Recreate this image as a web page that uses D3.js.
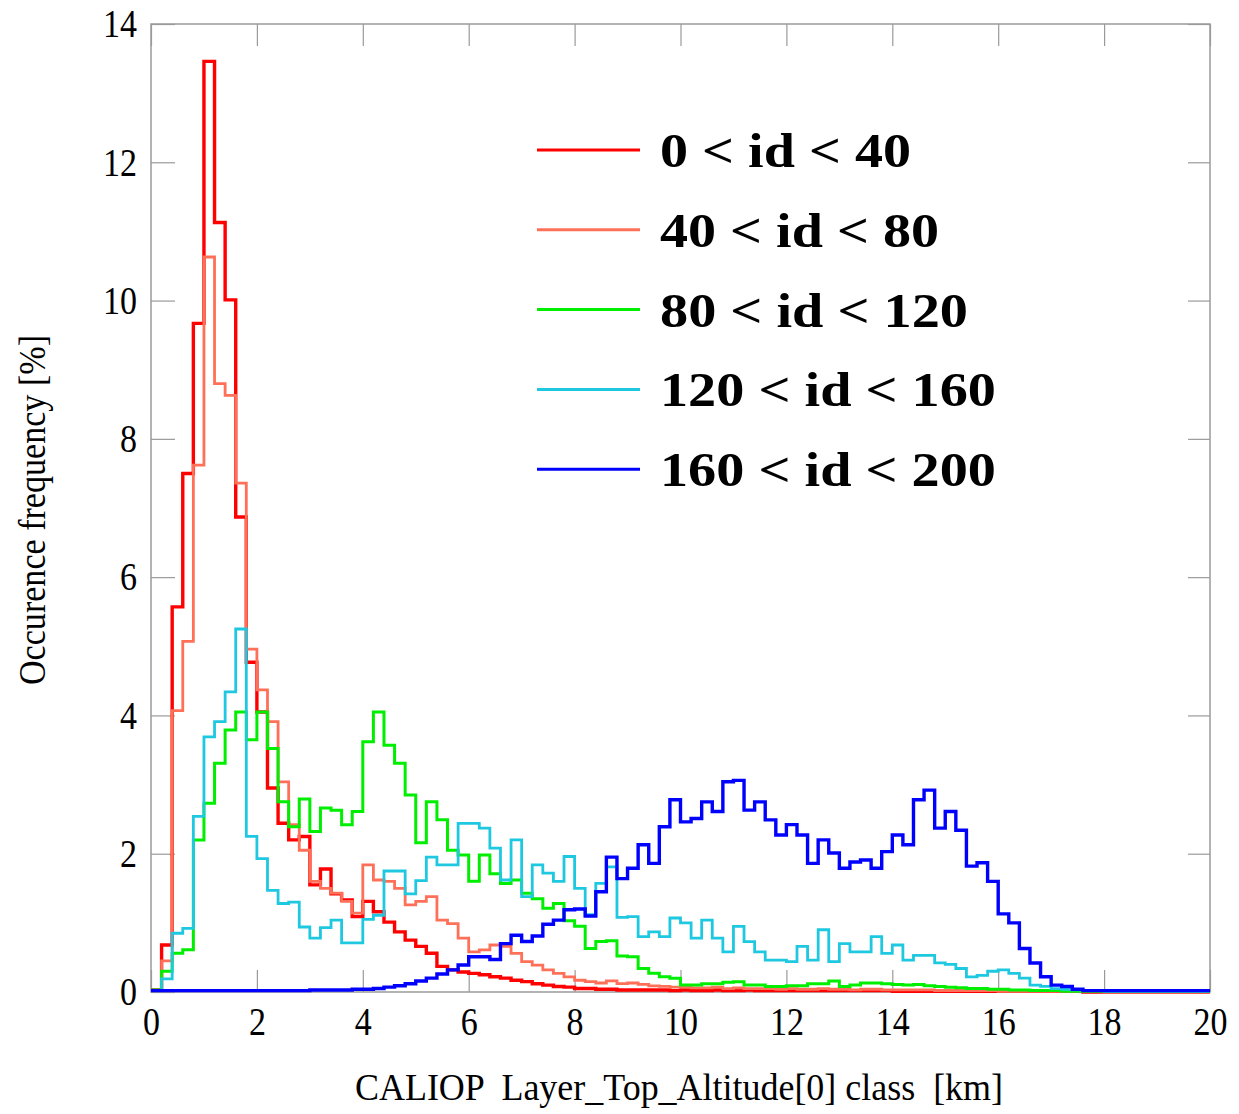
<!DOCTYPE html>
<html>
<head>
<meta charset="utf-8">
<script src="https://d3js.org/d3.v7.min.js"></script>
<style>
  body { margin: 0; background: #fff; }
  text { font-family: "Liberation Serif", "DejaVu Serif", serif; fill: #000; }
</style>
</head>
<body>
<svg id="chart" width="1239" height="1114"></svg>
<script>
/** data, one value per 0.2 km class (0 - 20 km) **/
var binWidth = 0.2;

var red = [0.03,0.68,5.57,7.50,9.67,13.46,11.13,10.01,6.87,4.77,
  4.05,2.95,2.44,2.20,2.25,1.55,1.78,1.42,1.33,1.09,
  1.31,1.16,1.01,0.87,0.75,0.66,0.56,0.37,0.32,0.29,
  0.27,0.25,0.22,0.20,0.17,0.15,0.12,0.10,0.08,0.07,
  0.05,0.05,0.04,0.04,0.03,0.03,0.03,0.03,0.03,0.02,
  0.03,0.02,0.02,0.03,0.02,0.02,0.03,0.02,0.02,0.02,
  0.02,0.02,0.02,0.02,0.02,0.02,0.02,0.02,0.02,0.02,
  0.01,0.01,0.01,0.01,0.01,0.01,0.01,0.01,0.01,0.01,
  0.01,0.01,0.01,0.01,0.01,0.01,0.01,0.01,0.00,0.00,
  0.00,0.00,0.00,0.00,0.00,0.00,0.00,0.00,0.00,0.00];

var salmon = [0.03,0.45,4.07,5.07,7.62,10.63,8.80,8.63,7.36,4.96,
  4.37,3.91,3.04,2.42,2.05,1.60,1.50,1.43,1.31,1.14,
  1.84,1.62,1.60,1.50,1.26,1.31,1.38,1.04,0.99,0.78,
  0.58,0.61,0.68,0.66,0.56,0.44,0.39,0.32,0.27,0.22,
  0.17,0.15,0.13,0.16,0.12,0.13,0.11,0.09,0.08,0.07,
  0.07,0.06,0.06,0.07,0.05,0.06,0.05,0.05,0.05,0.04,
  0.05,0.04,0.04,0.05,0.04,0.04,0.03,0.04,0.04,0.03,
  0.03,0.03,0.03,0.03,0.02,0.02,0.02,0.02,0.02,0.02,
  0.01,0.01,0.01,0.01,0.01,0.01,0.01,0.01,0.01,0.01,
  0.00,0.00,0.00,0.00,0.00,0.00,0.00,0.00,0.00,0.00];

var green = [0.03,0.30,0.56,0.61,2.20,2.73,3.31,3.79,4.05,3.65,
  4.05,3.52,2.75,2.39,2.79,2.32,2.66,2.63,2.42,2.61,
  3.62,4.05,3.57,3.31,2.85,2.16,2.75,2.49,2.05,1.98,
  1.60,1.98,1.71,1.57,1.62,1.43,1.35,1.21,1.28,1.03,
  0.95,0.63,0.73,0.74,0.52,0.51,0.34,0.27,0.22,0.20,
  0.10,0.10,0.12,0.12,0.14,0.15,0.10,0.10,0.08,0.08,
  0.09,0.09,0.12,0.12,0.16,0.08,0.10,0.13,0.13,0.12,
  0.11,0.10,0.11,0.09,0.08,0.07,0.06,0.05,0.05,0.04,
  0.04,0.03,0.03,0.02,0.02,0.02,0.01,0.01,0.01,0.01,
  0.01,0.01,0.01,0.01,0.01,0.01,0.01,0.01,0.01,0.01];

var cyan = [0.02,0.19,0.85,0.92,2.54,3.69,3.91,4.34,5.25,2.25,
  1.93,1.47,1.28,1.30,0.94,0.78,0.93,1.04,0.71,0.71,
  1.05,1.11,1.75,1.75,1.42,1.61,1.95,1.84,1.84,2.44,
  2.44,2.37,2.08,1.62,2.20,1.38,1.84,1.72,1.60,1.96,
  1.50,1.12,1.57,1.81,1.08,1.09,0.80,0.87,0.80,1.07,
  1.00,0.78,1.04,0.78,0.58,0.95,0.73,0.58,0.46,0.46,
  0.44,0.66,0.46,0.90,0.44,0.70,0.58,0.58,0.80,0.56,
  0.68,0.46,0.53,0.53,0.42,0.40,0.34,0.22,0.24,0.30,
  0.32,0.27,0.20,0.10,0.08,0.05,0.04,0.03,0.02,0.02,
  0.01,0.01,0.01,0.01,0.01,0.01,0.01,0.01,0.01,0.01];

var blue = [0.02,0.02,0.02,0.02,0.02,0.02,0.02,0.02,0.02,0.02,
  0.02,0.02,0.02,0.02,0.02,0.03,0.03,0.03,0.03,0.04,
  0.04,0.05,0.07,0.09,0.12,0.16,0.20,0.26,0.32,0.39,
  0.51,0.51,0.47,0.70,0.82,0.73,0.81,0.98,1.04,1.19,
  1.20,1.10,1.45,1.95,1.64,1.79,2.13,1.86,2.39,2.78,
  2.46,2.51,2.75,2.61,3.04,3.06,2.63,2.75,2.49,2.27,
  2.42,2.27,1.86,2.20,2.01,1.79,1.88,1.91,1.79,2.03,
  2.27,2.13,2.78,2.92,2.37,2.61,2.34,1.82,1.87,1.60,
  1.13,1.00,0.63,0.42,0.22,0.10,0.08,0.04,0.02,0.02,
  0.02,0.02,0.02,0.02,0.02,0.02,0.02,0.02,0.02,0.02];

var seriesNames = ["0 < id < 40", "40 < id < 80", "80 < id < 120", "120 < id < 160", "160 < id < 200"];
var seriesColors = ["#ff0000", "#ff7058", "#00ee00", "#1ec8e0", "#0000ff"];
var seriesWidth = [3.4, 2.8, 3, 2.8, 3.4];
var seriesData = [red, salmon, green, cyan, blue];

var xTicks = [0, 2, 4, 6, 8, 10, 12, 14, 16, 18, 20];
var yTicks = [0, 2, 4, 6, 8, 10, 12, 14];

/** layout **/
var svg = d3.select("#chart");
var x = d3.scaleLinear().domain([0, 20]).range([151, 1210]);
var y = d3.scaleLinear().domain([0, 14]).range([992, 24]);
var gridCol = "#9a9a9a";
var sx = 0.85; // tick labels look narrow

// bottom axis with labels, ticks pointing in
var gx = svg.append("g").attr("transform", "translate(0,992)")
  .call(d3.axisBottom(x).tickValues(xTicks).tickSizeInner(-22).tickSizeOuter(0).tickPadding(15));
gx.selectAll("text").attr("font-size", 40).attr("transform", "scale(" + sx + ",1)");

// top axis, ticks only
var gxt = svg.append("g").attr("transform", "translate(0,24)")
  .call(d3.axisTop(x).tickValues(xTicks).tickSizeInner(-22).tickSizeOuter(0).tickFormat(""));

// left axis with labels
var gy = svg.append("g").attr("transform", "translate(151,0)")
  .call(d3.axisLeft(y).tickValues(yTicks).tickSizeInner(-24).tickSizeOuter(0).tickPadding(14));
gy.selectAll("text").attr("font-size", 40)
  .attr("x", -14 / sx)
  .attr("transform", "scale(" + sx + ",1)");

// right axis, ticks only
var gyr = svg.append("g").attr("transform", "translate(1210,0)")
  .call(d3.axisRight(y).tickValues(yTicks).tickSizeInner(-22).tickSizeOuter(0).tickFormat(""));

svg.selectAll(".domain").remove();
svg.selectAll(".tick line").attr("stroke", gridCol).attr("stroke-width", 1.2);
svg.selectAll(".tick text").attr("font-family", "Liberation Serif, serif").attr("fill", "#000");

// frame
svg.append("rect")
  .attr("x", x(0)).attr("y", y(14))
  .attr("width", x(20) - x(0)).attr("height", y(0) - y(14))
  .attr("fill", "none").attr("stroke", gridCol).attr("stroke-width", 1.5);

/** step histograms **/
var line = d3.line()
  .x(function(d) { return x(d[0]); })
  .y(function(d) { return y(d[1]); })
  .curve(d3.curveStepAfter);

var toPoints = function(vals) {
  var pts = vals.map(function(v, i) { return [i * binWidth, v]; });
  pts.push([vals.length * binWidth, vals[vals.length - 1]]);
  return pts;
};

svg.append("g").selectAll("path")
  .data(seriesData)
  .enter()
  .append("path")
  .attr("d", function(d) { return line(toPoints(d)); })
  .attr("fill", "none")
  .attr("stroke", function(d, i) { return seriesColors[i]; })
  .attr("stroke-width", function(d, i) { return seriesWidth[i]; })
  .attr("stroke-linejoin", "miter");

/** legend **/
var legendW = [251, 279, 308, 336, 336];
var lg = svg.append("g").selectAll("g")
  .data(seriesNames)
  .enter()
  .append("g")
  .attr("transform", function(d, i) { return "translate(0," + (150 + i * 79.8) + ")"; });

lg.append("line")
  .attr("x1", 537).attr("x2", 640).attr("y1", 0).attr("y2", 0)
  .attr("stroke", function(d, i) { return seriesColors[i]; })
  .attr("stroke-width", 3);

lg.append("text")
  .attr("x", 660).attr("y", 17)
  .attr("font-size", 49).attr("font-weight", "bold")
  .attr("font-family", "Liberation Serif, serif")
  .attr("textLength", function(d, i) { return legendW[i]; })
  .attr("lengthAdjust", "spacingAndGlyphs")
  .text(function(d) { return d; });

/** axis titles **/
svg.append("text")
  .attr("x", 355).attr("y", 1100)
  .attr("font-size", 38)
  .attr("textLength", 648).attr("lengthAdjust", "spacingAndGlyphs")
  .style("white-space", "pre")
  .text("CALIOP  Layer_Top_Altitude[0] class  [km]");

svg.append("text")
  .attr("transform", "translate(45,510) rotate(-90)")
  .attr("text-anchor", "middle")
  .attr("font-size", 38)
  .attr("textLength", 350).attr("lengthAdjust", "spacingAndGlyphs")
  .text("Occurence frequency [%]");
</script>
</body>
</html>
